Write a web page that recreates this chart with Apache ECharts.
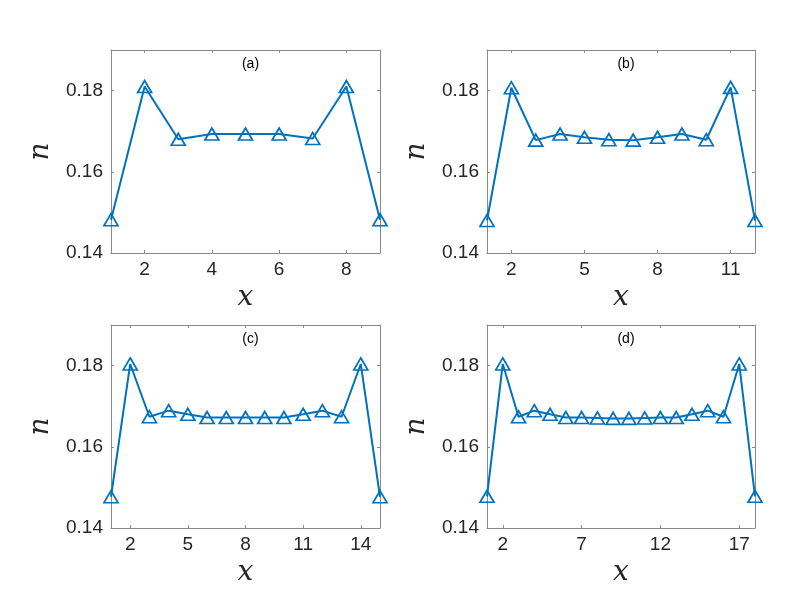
<!DOCTYPE html>
<html>
<head>
<meta charset="utf-8">
<script src="https://cdn.jsdelivr.net/npm/echarts@6/dist/echarts.min.js"></script>
<style>
html,body{margin:0;padding:0;background:#fff;}
#chart{width:798px;height:590px;}
</style>
</head>
<body>
<div id="chart"></div>
<script>
// ---- data ----
const panelLabels = ['(a)', '(b)', '(c)', '(d)'];
const nA = [0.1482, 0.1810, 0.1680, 0.1693, 0.1693, 0.1693, 0.1682, 0.1810, 0.1482];
const nB = [0.1480, 0.1807, 0.1678, 0.1693, 0.1685, 0.1679, 0.1678, 0.1685, 0.1693, 0.1679, 0.1808, 0.1480];
const nC = [0.1477, 0.1804, 0.1674, 0.1689, 0.1680, 0.1672, 0.1672, 0.1672, 0.1672, 0.1672, 0.1680, 0.1689, 0.1674, 0.1804, 0.1477];
const nD = [0.1478, 0.1804, 0.1674, 0.1689, 0.1680, 0.1672, 0.1672, 0.1671, 0.1670, 0.1670, 0.1671, 0.1672, 0.1672, 0.1680, 0.1689, 0.1674, 0.1804, 0.1478];
const xTicksA = [2, 4, 6, 8];
const xTicksB = [2, 5, 8, 11];
const xTicksC = [2, 5, 8, 11, 14];
const xTicksD = [2, 7, 12, 17];
const yTicks = [0.14, 0.16, 0.18];
const yMin = 0.14, yMax = 0.19;

const seriesData = [nA, nB, nC, nD];
const xTicks = [xTicksA, xTicksB, xTicksC, xTicksD];

const grids = [
  {left: 111, top: 50, width: 269, height: 203},
  {left: 487, top: 50, width: 268, height: 203},
  {left: 111, top: 325, width: 269, height: 203},
  {left: 487, top: 325, width: 268, height: 203}
];

const BLUE = '#0072BD';
const AXC = '#8a8a8a';
const TXT = '#262626';
const sans = 'Liberation Sans, Arial, Helvetica, sans-serif';
const serif = 'DejaVu Serif, serif';

const xAxes = [], yAxes = [], series = [], titles = [];
seriesData.forEach((vals, i) => {
  const n = vals.length;
  const g = grids[i];
  xAxes.push({
    type: 'value', gridIndex: i, position: 'bottom', min: 1, max: n,
    name: 'x', nameLocation: 'middle', nameGap: 31,
    nameTextStyle: {fontFamily: serif, fontStyle: 'italic', fontSize: 28, color: TXT},
    axisLine: {show: true, lineStyle: {color: AXC, width: 1}},
    axisTick: {show: true, inside: true, length: 3, customValues: xTicks[i], lineStyle: {color: AXC}},
    axisLabel: {show: true, customValues: xTicks[i], fontFamily: sans, fontSize: 19, color: TXT, margin: 7},
    splitLine: {show: false}
  });
  xAxes.push({
    type: 'value', gridIndex: i, position: 'top', min: 1, max: n,
    axisLine: {show: true, lineStyle: {color: AXC, width: 1}},
    axisTick: {show: true, inside: true, length: 3, customValues: xTicks[i], lineStyle: {color: AXC}},
    axisLabel: {show: false},
    splitLine: {show: false}
  });
  yAxes.push({
    type: 'value', gridIndex: i, position: 'left', min: yMin, max: yMax,
    name: 'n', nameLocation: 'middle', nameGap: 56, nameRotate: 90,
    nameTextStyle: {fontFamily: serif, fontStyle: 'italic', fontSize: 28, color: TXT},
    axisLine: {show: true, lineStyle: {color: AXC, width: 1}},
    axisTick: {show: true, inside: true, length: 3, customValues: yTicks, lineStyle: {color: AXC}},
    axisLabel: {show: true, customValues: yTicks, fontFamily: sans, fontSize: 19, color: TXT, margin: 8,
      formatter: v => v.toFixed(2)},
    splitLine: {show: false}
  });
  yAxes.push({
    type: 'value', gridIndex: i, position: 'right', min: yMin, max: yMax,
    axisLine: {show: true, lineStyle: {color: AXC, width: 1}},
    axisTick: {show: true, inside: true, length: 3, customValues: yTicks, lineStyle: {color: AXC}},
    axisLabel: {show: false},
    splitLine: {show: false}
  });
  series.push({
    type: 'line',
    xAxisIndex: 2 * i, yAxisIndex: 2 * i,
    data: vals.map((v, k) => [k + 1, v]),
    symbol: 'triangle', symbolSize: [14, 12],
    lineStyle: {color: BLUE, width: 2},
    itemStyle: {color: 'rgba(255,255,255,0)', borderColor: BLUE, borderWidth: 1.7},
    animation: false,
    z: 3
  });
  titles.push({
    text: panelLabels[i],
    left: g.left + g.width / 2, top: g.top + 2,
    textAlign: 'center',
    textStyle: {fontFamily: sans, fontSize: 14, fontWeight: 'normal', color: '#000'}
  });
});

const chart = echarts.init(document.getElementById('chart'), null, {renderer: 'canvas'});
chart.setOption({
  backgroundColor: '#fff',
  animation: false,
  title: titles,
  grid: grids.map(g => Object.assign({containLabel: false}, g)),
  xAxis: xAxes,
  yAxis: yAxes,
  series: series
});
</script>
</body>
</html>
